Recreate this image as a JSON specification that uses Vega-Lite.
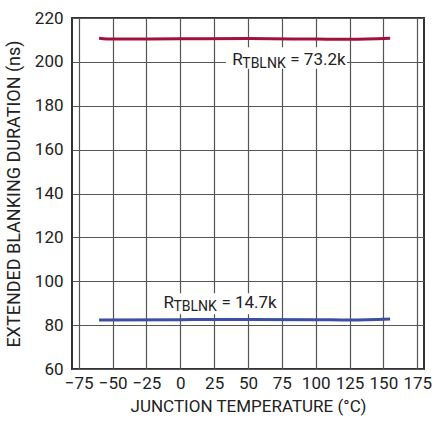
{
  "$schema": "https://vega.github.io/schema/vega-lite/v6.json",
  "width": 352,
  "height": 351,
  "autosize": {"type": "none"},
  "padding": {"left": 72, "top": 18, "right": 14, "bottom": 57},
  "background": "white",
  "config": {
    "font": "Roboto",
    "view": {"stroke": "#333333", "strokeWidth": 2},
    "axis": {
      "grid": true,
      "gridColor": "#555555",
      "gridWidth": 1.2,
      "gridOpacity": 1,
      "domain": false,
      "ticks": false,
      "labelOverlap": false,
      "labelFont": "Roboto",
      "labelFontSize": 17,
      "labelColor": "#222222",
      "titleFont": "Roboto",
      "titleFontSize": 17,
      "titleFontWeight": "normal",
      "titleColor": "#222222"
    }
  },
  "datasets": {
    "curves": [
      {"series": "73.2k", "temp": -60, "ns": 210.8},
      {"series": "73.2k", "temp": -50, "ns": 210.4},
      {"series": "73.2k", "temp": 0, "ns": 210.5},
      {"series": "73.2k", "temp": 50, "ns": 210.6},
      {"series": "73.2k", "temp": 100, "ns": 210.4},
      {"series": "73.2k", "temp": 125, "ns": 210.3},
      {"series": "73.2k", "temp": 155, "ns": 210.8},
      {"series": "14.7k", "temp": -60, "ns": 82.3},
      {"series": "14.7k", "temp": 0, "ns": 82.5},
      {"series": "14.7k", "temp": 50, "ns": 82.6},
      {"series": "14.7k", "temp": 100, "ns": 82.5},
      {"series": "14.7k", "temp": 125, "ns": 82.3},
      {"series": "14.7k", "temp": 155, "ns": 82.8}
    ],
    "labels": [
      {"series": "73.2k", "x": 38.4, "y": 198.4, "x0": 33.7, "x1": 123, "y0": 196.9, "y1": 206.7, "main": "R", "sub": "TBLNK", "rest": "= 73.2k"},
      {"series": "14.7k", "x": -12.5, "y": 87.6, "x0": -16, "x1": 71, "y0": 85, "y1": 94.5, "main": "R", "sub": "TBLNK", "rest": "= 14.7k"}
    ]
  },
  "layer": [
    {
      "data": {"name": "labels"},
      "mark": {"type": "rect", "color": "white"},
      "encoding": {
        "x": {"field": "x0", "type": "quantitative", "scale": {"domain": [-75, 175]},
              "axis": {"values": [-75, -50, -25, 0, 25, 50, 75, 100, 125, 150, 175], "tickCount": 12, "labelOverlap": false, "labelFlush": false, "labelBound": false, "title": "JUNCTION TEMPERATURE (°C)", "labelPadding": 6, "titlePadding": 7}},
        "x2": {"field": "x1"},
        "y": {"field": "y0", "type": "quantitative", "scale": {"domain": [60, 220]},
              "axis": {"values": [60, 80, 100, 120, 140, 160, 180, 200, 220], "tickCount": 10, "labelOverlap": false, "title": "EXTENDED BLANKING DURATION (ns)", "titleFontSize": 18, "labelPadding": 9, "titlePadding": 11}},
        "y2": {"field": "y1"}
      }
    },
    {
      "data": {"name": "curves"},
      "mark": {"type": "line", "strokeWidth": 3, "interpolate": "monotone"},
      "encoding": {
        "x": {"field": "temp", "type": "quantitative"},
        "y": {"field": "ns", "type": "quantitative"},
        "color": {"field": "series", "type": "nominal", "scale": {"domain": ["73.2k", "14.7k"], "range": ["#A0123C", "#3C4FA0"]}, "legend": null}
      }
    },
    {
      "data": {"name": "labels"},
      "mark": {"type": "text", "align": "left", "baseline": "alphabetic", "fontSize": 17, "color": "#222222", "font": "Roboto"},
      "encoding": {
        "x": {"field": "x", "type": "quantitative"},
        "y": {"field": "y", "type": "quantitative"},
        "text": {"field": "main"}
      }
    },
    {
      "data": {"name": "labels"},
      "mark": {"type": "text", "align": "left", "baseline": "alphabetic", "fontSize": 14, "dx": 10, "dy": 3, "color": "#222222", "font": "Roboto"},
      "encoding": {
        "x": {"field": "x", "type": "quantitative"},
        "y": {"field": "y", "type": "quantitative"},
        "text": {"field": "sub"}
      }
    },
    {
      "data": {"name": "labels"},
      "mark": {"type": "text", "align": "left", "baseline": "alphabetic", "fontSize": 17, "dx": 58, "color": "#222222", "font": "Roboto"},
      "encoding": {
        "x": {"field": "x", "type": "quantitative"},
        "y": {"field": "y", "type": "quantitative"},
        "text": {"field": "rest"}
      }
    }
  ]
}
